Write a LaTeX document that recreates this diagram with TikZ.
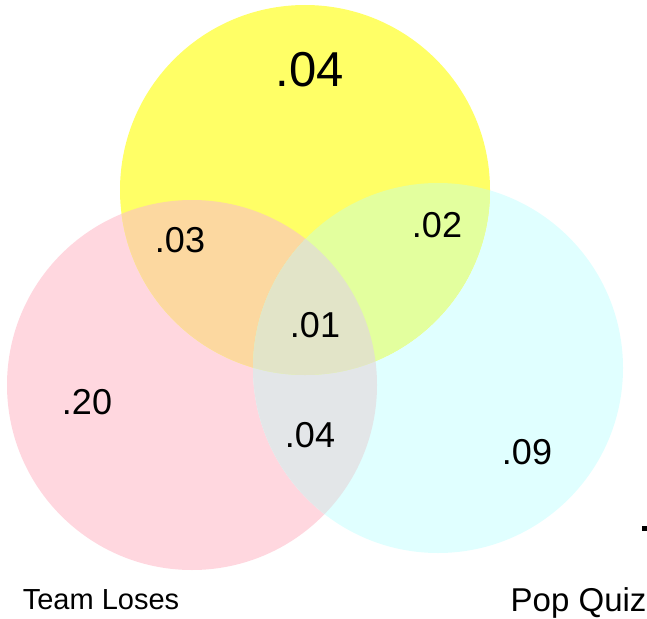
\documentclass[tikz,border=0pt]{standalone}
\usepackage{fontspec}
\setmainfont{Liberation Sans}
\usepackage{tikz}

\definecolor{losefill}{HTML}{FFD7DF}
\definecolor{quizfill}{HTML}{E0FFFF}
\definecolor{topfill}{HTML}{FFFF66}
\definecolor{topbylose}{HTML}{FCD8A0}
\definecolor{topbyquiz}{HTML}{E3FF9E}
\definecolor{losebyquiz}{HTML}{E3E6E8}
\definecolor{allthree}{HTML}{E2E4C8}

\begin{document}
\begin{tikzpicture}
[ x=1pt, y=-1pt
, set/.style={circle, minimum size=370pt, inner sep=0pt}
, prob/.style={font=\fontsize{36}{40}\selectfont}
, bigprob/.style={font=\fontsize{49}{54}\selectfont}
, setname/.style={font=\fontsize{29}{32}\selectfont}
]
\useasboundingbox (0,0) rectangle (647,618);
% The three sets:
\node (lose) [set, fill=losefill] at (192,385) {};
\node (quiz) [set, fill=quizfill] at (438,368) {};
\node (top) [set, fill=topfill] at (305,190) {};
% Overlaps:
\begin{scope}
  \clip (lose.center) circle [radius=185pt];
  \fill [topbylose] (top.center) circle [radius=185pt];
  \fill [losebyquiz] (quiz.center) circle [radius=185pt];
\end{scope}
\begin{scope}
  \clip (quiz.center) circle [radius=185pt];
  \fill [topbyquiz] (top.center) circle [radius=185pt];
\end{scope}
\begin{scope}
  \clip (lose.center) circle [radius=185pt];
  \clip (quiz.center) circle [radius=185pt];
  \fill [allthree] (top.center) circle [radius=185pt];
\end{scope}
% Probabilities:
\node (ptop) [bigprob] at (310,70) {.04};
\node (ptoplose) [prob] at (180,240) {.03};
\node (ptopquiz) [prob] at (437,225) {.02};
\node (pall) [prob] at (315,325) {.01};
\node (plose) [prob] at (87,402) {.20};
\node (plosequiz) [prob] at (310,435) {.04};
\node (pquiz) [prob] at (527,452) {.09};
% Set names:
\node (losename) [setname] at (101,600) {Team Loses};
\node (quizname) [setname, font=\fontsize{33}{36}\selectfont, anchor=east] at (650,603) {Pop Quiz};
\node (dot) [fill=black, inner sep=0pt, minimum size=5pt] at (644,528) {};
\end{tikzpicture}
\end{document}
